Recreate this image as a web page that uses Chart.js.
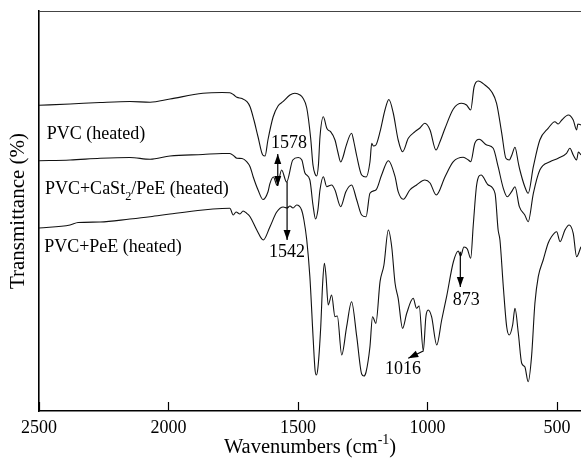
<!DOCTYPE html>
<html lang="en">
<head>
<meta charset="UTF-8">
<title>FTIR spectra of heated PVC samples</title>
<script src="https://cdn.jsdelivr.net/npm/chart.js"></script>
<style>
  body { margin: 0; background: #fff; }
  #wrap { width: 581px; height: 462px; }
</style>
</head>
<body>
<div id="wrap"><canvas id="ftir" width="581" height="462"></canvas></div>
<script>
// Spectra: wavenumber (cm-1) and transmittance (arbitrary units, curves offset)
const pvcWn = [2500,2380,2264,2149,2071,1994,1867,1793,1763,1747,1736,1716,1697,1685,1670,1654,1636,1627,1616,1596,
  1577,1558,1531,1512,1492,1481,1466,1451,1442,1434,1428,1421,1415,1402,1389,1384,1374,1357,1346,1335,
  1326,1315,1293,1284,1273,1254,1237,1222,1215,1209,1199,1183,1164,1149,1132,1113,1096,1074,1048,1029,
  1010,990,967,952,932,900,868,849,833,820,804,778,752,733,713,697,684,674,662,649,
  643,624,611,591,566,534,508,495,481,456,437,424,419,407];
const pvcT = [305.7,307,308.5,309.5,308.7,312,317.7,318.5,318.3,316,313.7,312.5,309.3,304.3,291,274,256,255,271,294,
  305,309.3,316,317.7,316,313,303,273,246,237,235,246,274,294.3,283,281,279.3,271,259,249,
  254,264.3,277.7,269,255,236,234,249,267.7,265,266,279.3,301,311.5,298,271,259.3,272.7,279.3,283,
  287.7,281,261,269,282.7,302,307.7,306,301,324,330,326,319.3,307.7,277.7,252.7,251,256,263.7,248,
  241,224.3,217.7,244.3,271,282.7,289.3,287,291,296,291,281,287,286];

const casWn = [2500,2380,2264,2149,2071,1994,1867,1793,1763,1747,1736,1716,1698,1685,1673,1654,1635,1616,1608,1595,
  1580,1563,1544,1520,1499,1485,1473,1454,1442,1432,1423,1415,1402,1389,1370,1357,1335,1315,1293,1273,
  1254,1237,1222,1199,1177,1151,1125,1113,1093,1068,1042,1010,990,966,932,900,862,842,833,817,
  800,771,746,727,707,692,675,662,645,624,611,591,566,527,495,463,450,437,424,417,407];
const casT = [250.3,251,252.7,253.5,251.7,255,256.5,257.5,257.5,255,252.7,252.5,249.3,244.3,234.3,221,211.5,219,227.7,234,
  225.5,241,229,251,253.5,251,238,231,206,192,201,221,234.3,224.3,226,221,204.3,219.3,226,211,
  196,194.3,217.7,221,236,250.3,234.3,219.3,211.7,221,226,231,228,216,234.3,249.3,253.7,251,249.3,267.7,
  271.7,266,262.7,244.3,222.7,214.3,219.3,224.3,204.3,196,189.3,217.7,241,249.3,252.7,257.7,262.7,256,251,259,256];

const peeWn = [2500,2380,2349,2264,2149,2071,1994,1867,1793,1763,1750,1739,1724,1712,1698,1685,1659,1634,1608,1582,
  1557,1542,1531,1519,1505,1486,1477,1466,1454,1441,1434,1429,1423,1412,1405,1398,1392,1383,1370,1357,
  1348,1331,1312,1293,1273,1254,1245,1237,1222,1212,1199,1183,1168,1151,1138,1125,1113,1096,1080,1055,
  1042,1032,1016,1006,997,984,964,945,926,900,881,872,859,846,833,823,810,793,765,739,
  727,720,707,694,684,671,662,649,636,624,611,598,585,572,553,534,521,501,488,469,453,437,424,407];
const peeT = [183,186,188.5,189,192,194.3,197,201,202.5,202.7,196,199,197,200,197.7,194.3,181,171,184.3,199,
  204,203,205,203,206,201,191,171,134.3,71,41,36,43,84.3,126,147.7,136,106,116,94.3,
  95,56,84.3,109.3,74.3,37,35,39,64.3,94.3,87.7,129.3,146,181,164.3,127.7,112.7,82.7,97.7,112.7,
  102.7,105,60,94.3,101,94.3,66,91,114.3,149,160,155,164,162,152.7,186,226,236,226,217.7,
  181,171,124.3,84.3,76,86,102.7,77.7,47.7,44.3,29.3,54.3,107.7,134.3,151,167.7,174.3,179.3,169.3,181,186,177.7,154.3,164.3];

const xTicks = [2500, 2000, 1500, 1000, 500];
const peakLabels = [1578, 1542, 1016, 873];

const SERIF = '"Liberation Serif", "Times New Roman", serif';
Chart.defaults.font.family = SERIF;
Chart.defaults.color = '#000';

const toPoints = (wn, t) => wn.map((w, i) => ({ x: w, y: t[i] }));
const spectrum = (label, wn, t) => ({
  label,
  data: toPoints(wn, t),
  borderColor: '#111',
  borderWidth: 1.1,
  pointRadius: 0,
  cubicInterpolationMode: 'monotone',
  fill: false
});

// text with optional sub/superscript pieces
function richWidth(ctx, parts, size) {
  let w = 0;
  parts.forEach(p => {
    ctx.font = ((p.sub || p.sup) ? size * 0.68 : size) + 'px ' + SERIF;
    w += ctx.measureText(p.t).width;
  });
  return w;
}
function drawRich(ctx, parts, x, y, size) {
  let cx = x;
  parts.forEach(p => {
    const s = (p.sub || p.sup) ? size * 0.68 : size;
    ctx.font = s + 'px ' + SERIF;
    const dy = p.sub ? size * 0.3 : p.sup ? -size * 0.42 : 0;
    ctx.fillText(p.t, cx, y + dy);
    cx += ctx.measureText(p.t).width;
  });
}

function arrowHead(ctx, fx, fy, tx, ty) {
  const a = Math.atan2(ty - fy, tx - fx), len = 10, hw = 3.5;
  ctx.beginPath();
  ctx.moveTo(tx, ty);
  ctx.lineTo(tx - len * Math.cos(a) + hw * Math.sin(a), ty - len * Math.sin(a) - hw * Math.cos(a));
  ctx.lineTo(tx - len * Math.cos(a) - hw * Math.sin(a), ty - len * Math.sin(a) + hw * Math.cos(a));
  ctx.closePath();
  ctx.fill();
}

const overlay = {
  id: 'overlay',
  afterDatasetsDraw(chart) {
    const { ctx, chartArea: ca, scales: { x, y } } = chart;
    ctx.save();
    ctx.strokeStyle = '#000';
    ctx.fillStyle = '#000';
    ctx.textBaseline = 'alphabetic';
    ctx.textAlign = 'left';

    // frame top edge
    ctx.lineWidth = 1.2;
    ctx.strokeStyle = '#444';
    ctx.beginPath();
    ctx.moveTo(ca.left, ca.top + 0.5);
    ctx.lineTo(ca.right, ca.top + 0.5);
    ctx.stroke();

    // inward tick marks on the wavenumber axis
    ctx.strokeStyle = '#000';
    ctx.lineWidth = 1.2;
    xTicks.forEach(v => {
      const px = Math.round(x.getPixelForValue(v)) + 0.5;
      ctx.beginPath();
      ctx.moveTo(px, ca.bottom);
      ctx.lineTo(px, ca.bottom - 9);
      ctx.stroke();
    });

    // curve names
    const names = [
      { parts: [{ t: 'PVC (heated)' }], wn: 2470, t: 271.7 },
      { parts: [{ t: 'PVC+CaSt' }, { t: '2', sub: true }, { t: '/PeE (heated)' }], wn: 2477, t: 216.7 },
      { parts: [{ t: 'PVC+PeE (heated)' }], wn: 2480, t: 159.3 }
    ];
    names.forEach(n => drawRich(ctx, n.parts, x.getPixelForValue(n.wn), y.getPixelForValue(n.t), 18));

    // peak markers: [wn, from t, to wn, to t, both heads, label wn, label t]
    const [p1578, p1542, p1016, p873] = peakLabels;
    const marks = [
      [p1578, 257, p1578, 225, true, 1604, 263],
      [p1542, 229.3, p1542, 171, false, 1612, 154],
      [p1016, 60, 1074, 52.7, false, 1164, 37],
      [p873, 159.3, p873, 124, false, 902, 106]
    ];
    ctx.lineWidth = 1.2;
    marks.forEach(([w1, t1, w2, t2, both, lw, lt], i) => {
      const x1 = x.getPixelForValue(w1), y1 = y.getPixelForValue(t1);
      const x2 = x.getPixelForValue(w2), y2 = y.getPixelForValue(t2);
      ctx.beginPath();
      ctx.moveTo(x1, y1);
      ctx.lineTo(x2, y2);
      ctx.stroke();
      arrowHead(ctx, x1, y1, x2, y2);
      if (both) arrowHead(ctx, x2, y2, x1, y1);
      ctx.font = '18px ' + SERIF;
      ctx.fillText(String(peakLabels[i]), x.getPixelForValue(lw), y.getPixelForValue(lt));
    });

    // wavenumber axis title with superscript
    const title = [{ t: 'Wavenumbers (cm' }, { t: '-1', sup: true }, { t: ')' }];
    const tw = richWidth(ctx, title, 20.5);
    drawRich(ctx, title, (ca.left + ca.right) / 2 - tw / 2, 453, 20.5);
    ctx.restore();
  }
};

new Chart(document.getElementById('ftir'), {
  type: 'line',
  data: {
    datasets: [
      spectrum('PVC (heated)', pvcWn, pvcT),
      spectrum('PVC+CaSt2/PeE (heated)', casWn, casT),
      spectrum('PVC+PeE (heated)', peeWn, peeT)
    ]
  },
  options: {
    responsive: false,
    animation: false,
    layout: { padding: { top: 11, right: 0, left: 0, bottom: 0 } },
    plugins: { legend: { display: false }, tooltip: { enabled: false } },
    scales: {
      x: {
        type: 'linear',
        reverse: true,
        min: 407,
        max: 2500,
        afterBuildTicks: s => { s.ticks = xTicks.map(v => ({ value: v })); },
        afterFit: s => { s.height = 51; },
        grid: { display: false, drawTicks: false },
        border: { display: true, color: '#000', width: 1.6 },
        ticks: { font: { size: 18 }, color: '#000', padding: 6, maxRotation: 0, callback: v => String(v) }
      },
      y: {
        min: 0,
        max: 400,
        afterFit: s => { s.width = 39; },
        grid: { display: false, drawTicks: false },
        border: { display: true, color: '#000', width: 1.6 },
        ticks: { display: false },
        title: {
          display: true,
          text: 'Transmittance (%)',
          font: { size: 21 },
          color: '#000',
          padding: { top: 6, bottom: 0 }
        }
      }
    }
  },
  plugins: [overlay]
});
</script>
</body>
</html>
